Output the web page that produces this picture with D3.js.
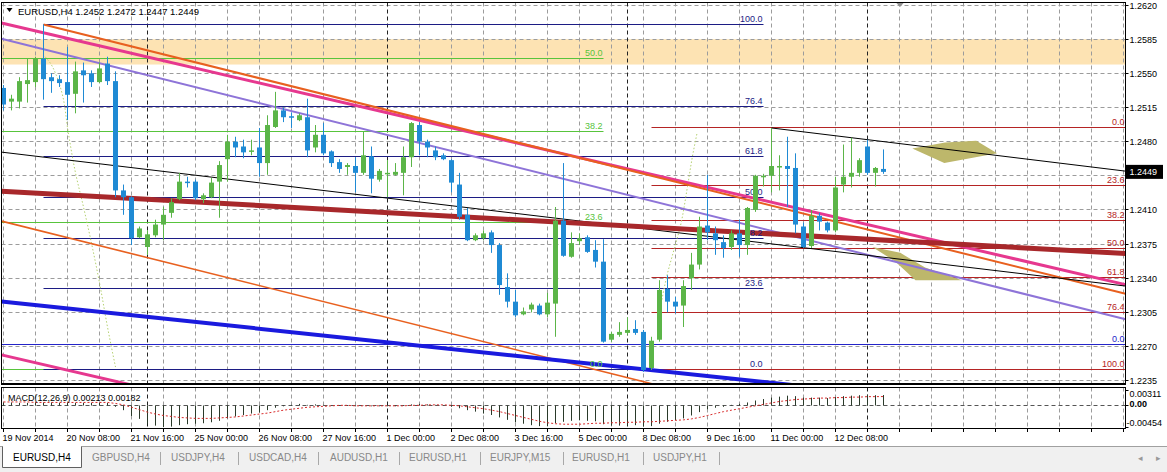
<!DOCTYPE html>
<html><head><meta charset="utf-8">
<script src="https://cdn.jsdelivr.net/npm/d3@7"></script>
<style>
html,body{margin:0;padding:0;background:#fff;}
svg{display:block;font-family:"Liberation Sans",Arial,sans-serif;}
</style></head><body>
<svg id="c" width="1167" height="472"></svg>
<script>
// ---------------- DATA ----------------
const symbolTitle = "EURUSD,H4";
const headerOHLC = [1.2452, 1.2472, 1.2447, 1.2449];
const opens = [1.2535,1.2521,1.2521,1.2539,1.2541,1.2565,1.2546,1.2544,1.2541,1.2529,1.2553,1.2550,1.2541,1.2560,1.2542,1.2430,1.2423,1.2382,1.2372,1.2384,
1.2395,1.2407,1.2421,1.2439,1.2439,1.2421,1.2423,1.2439,1.2462,1.2480,1.2475,1.2470,1.2474,1.2458,1.2495,1.2512,1.2506,1.2502,1.2505,1.2474,
1.2487,1.2470,1.2459,1.2454,1.2455,1.2448,1.2465,1.2441,1.2448,1.2446,1.2448,1.2464,1.2497,1.2480,1.2471,1.2466,1.2461,1.2436,1.2405,1.2379,
1.2381,1.2387,1.2374,1.2331,1.2316,1.2303,1.2308,1.2312,1.2303,1.2314,1.2399,1.2362,1.2378,1.2382,1.2369,1.2357,1.2277,1.2282,1.2284,1.2288,
1.2285,1.2248,1.2277,1.2329,1.2316,1.2312,1.2340,1.2354,1.2394,1.2386,1.2377,1.2372,1.2386,1.2374,1.2410,1.2445,1.2445,1.2455,1.2455,1.2453,
1.2393,1.2373,1.2404,1.2397,1.2389,1.2436,1.2444,1.2448,1.2475,1.2448,1.2452];
const highs = [1.2538,1.2528,1.2546,1.2565,1.2567,1.2600,1.2550,1.2548,1.2577,1.2562,1.2561,1.2553,1.2561,1.2567,1.2552,1.2436,1.2424,1.2393,1.2389,1.2400,
1.2413,1.2422,1.2448,1.2444,1.2441,1.2427,1.2443,1.2460,1.2487,1.2485,1.2482,1.2482,1.2494,1.2507,1.2531,1.2515,1.2510,1.2509,1.2524,1.2497,
1.2499,1.2471,1.2462,1.2458,1.2464,1.2490,1.2475,1.2452,1.2461,1.2458,1.2475,1.2500,1.2500,1.2482,1.2475,1.2468,1.2462,1.2448,1.2412,1.2386,
1.2389,1.2389,1.2376,1.2345,1.2328,1.2310,1.2315,1.2314,1.2325,1.2413,1.2458,1.2387,1.2386,1.2384,1.2379,1.2380,1.2285,1.2295,1.2300,1.2297,
1.2287,1.2280,1.2338,1.2343,1.2321,1.2338,1.2366,1.2403,1.2446,1.2393,1.2384,1.2389,1.2400,1.2413,1.2446,1.2447,1.2494,1.2466,1.2485,1.2468,
1.2397,1.2410,1.2407,1.2398,1.2444,1.2477,1.2484,1.2463,1.2482,1.2454,1.2472];
const lows = [1.2512,1.2512,1.2514,1.2520,1.2536,1.2523,1.2530,1.2536,1.2502,1.2509,1.2520,1.2536,1.2540,1.2538,1.2423,1.2405,1.2374,1.2381,1.2364,1.2382,
1.2379,1.2402,1.2420,1.2433,1.2420,1.2417,1.2422,1.2402,1.2439,1.2464,1.2463,1.2466,1.2444,1.2446,1.2494,1.2500,1.2494,1.2501,1.2464,1.2469,
1.2466,1.2454,1.2448,1.2446,1.2428,1.2446,1.2427,1.2439,1.2423,1.2445,1.2425,1.2454,1.2466,1.2464,1.2461,1.2461,1.2428,1.2400,1.2378,1.2378,
1.2379,1.2366,1.2323,1.2310,1.2300,1.2302,1.2305,1.2302,1.2300,1.2280,1.2362,1.2361,1.2374,1.2366,1.2351,1.2274,1.2275,1.2280,1.2282,1.2282,
1.2244,1.2246,1.2275,1.2305,1.2304,1.2290,1.2328,1.2349,1.2379,1.2364,1.2361,1.2369,1.2362,1.2364,1.2408,1.2434,1.2428,1.2430,1.2413,1.2386,
1.2371,1.2371,1.2389,1.2387,1.2387,1.2428,1.2433,1.2444,1.2446,1.2434,1.2447];
const closes = [1.2518,1.2524,1.2542,1.2543,1.2565,1.2544,1.2542,1.2540,1.2528,1.2552,1.2548,1.2541,1.2555,1.2542,1.2430,1.2423,1.2381,1.2391,1.2385,1.2395,
1.2405,1.2418,1.2439,1.2438,1.2422,1.2425,1.2438,1.2456,1.2480,1.2474,1.2469,1.2471,1.2458,1.2497,1.2512,1.2505,1.2505,1.2507,1.2471,1.2487,
1.2468,1.2458,1.2452,1.2456,1.2448,1.2466,1.2442,1.2450,1.2448,1.2449,1.2464,1.2499,1.2480,1.2474,1.2464,1.2462,1.2438,1.2403,1.2379,1.2384,
1.2386,1.2374,1.2333,1.2316,1.2302,1.2306,1.2313,1.2303,1.2315,1.2399,1.2363,1.2376,1.2381,1.2367,1.2357,1.2275,1.2283,1.2285,1.2287,1.2284,
1.2246,1.2276,1.2328,1.2316,1.2311,1.2332,1.2354,1.2393,1.2387,1.2379,1.2371,1.2386,1.2374,1.2412,1.2445,1.2445,1.2455,1.2455,1.2452,1.2395,
1.2372,1.2404,1.2398,1.2389,1.2433,1.2444,1.2448,1.2461,1.2448,1.2453,1.2449];

const macdMain = [0.0006,0.0006,0.0005,0.0005,0.0006,0.0006,0.0006,0.0005,0.0005,0.0005,0.0005,0.0005,0.0005,0.0005,-0.0003,-0.0010,-0.0022,-0.0028,-0.0038,-0.0042,
-0.0045,-0.0044,-0.0041,-0.0039,-0.0038,-0.0037,-0.0035,-0.0032,-0.0027,-0.0023,-0.0020,-0.0017,-0.0015,-0.0010,-0.0005,-0.0002,0.0001,0.0003,0.0001,0.0002,
0.0001,0.0000,-0.0001,-0.0001,-0.0002,-0.0001,-0.0002,-0.0002,-0.0002,-0.0002,-0.0001,0.0002,0.0003,0.0002,0.0001,0.0000,-0.0003,-0.0006,-0.0010,-0.0013,
-0.0017,-0.0020,-0.0025,-0.0030,-0.0035,-0.0038,-0.0041,-0.0043,-0.0043,-0.0037,-0.0034,-0.0032,-0.0031,-0.0032,-0.0033,-0.0039,-0.0042,-0.0042,-0.0042,-0.0041,
-0.0044,-0.0043,-0.0038,-0.0034,-0.0031,-0.0027,-0.0021,-0.0014,-0.0008,-0.0005,-0.0003,0.0001,0.0003,0.0006,0.0010,0.0013,0.0016,0.0018,0.0020,0.0019,
0.0016,0.0016,0.0016,0.0015,0.0017,0.0019,0.0020,0.0021,0.0022,0.0021,0.00213];
const macdSignal = [0.0007,0.0007,0.0007,0.0007,0.0006,0.0006,0.0006,0.0006,0.0006,0.0006,0.0006,0.0006,0.0006,0.0006,0.0004,0.0001,-0.0004,-0.0009,-0.0014,-0.0018,
-0.0021,-0.0023,-0.0025,-0.0026,-0.0027,-0.0027,-0.0027,-0.0026,-0.0025,-0.0024,-0.0022,-0.0020,-0.0018,-0.0016,-0.0013,-0.0010,-0.0008,-0.0006,-0.0004,-0.0003,
-0.0002,-0.0001,0.0000,0.0000,-0.0001,-0.0001,-0.0001,-0.0001,-0.0001,-0.0001,-0.0001,0.0000,0.0000,0.0001,0.0001,0.0001,0.0000,-0.0001,-0.0003,-0.0005,
-0.0007,-0.0010,-0.0013,-0.0017,-0.0021,-0.0025,-0.0029,-0.0033,-0.0036,-0.0038,-0.0039,-0.0039,-0.0039,-0.0038,-0.0037,-0.0037,-0.0036,-0.0036,-0.0035,-0.0035,
-0.0034,-0.0034,-0.0033,-0.0032,-0.0031,-0.0030,-0.0028,-0.0025,-0.0021,-0.0017,-0.0013,-0.0010,-0.0007,-0.0004,-0.0001,0.0002,0.0005,0.0008,0.0010,0.0012,
0.0013,0.0014,0.0015,0.0015,0.0016,0.0016,0.0017,0.0017,0.0018,0.0018,0.00182];
const macdScale = [-0.00454, 0.00311];
const macdTitle = "MACD(12,26,9) 0.00213 0.00182";

const priceTicks = [1.2620,1.2585,1.2550,1.2515,1.2480,1.2445,1.2410,1.2375,1.2340,1.2305,1.2270,1.2235];
const dateLabels = ["19 Nov 2014","20 Nov 08:00","21 Nov 16:00","25 Nov 00:00","26 Nov 08:00","27 Nov 16:00","1 Dec 00:00","2 Dec 08:00","3 Dec 16:00","5 Dec 00:00","8 Dec 08:00","9 Dec 16:00","11 Dec 00:00","12 Dec 08:00"];
const dateLabelIdx = [0,8,16,24,32,40,48,56,64,72,80,88,96,104];
const weekStartIdx = [18,48,78,108];
const lastBarIdx = 140; // chart shift area extends to this bar index

// zone (rectangle object) prices
const zoneTop = 1.2585, zoneBottom = 1.2559;
// fibonacci objects: [price at 0%, price at 100%, from bar, to bar]
const fibLevels = [0, 23.6, 38.2, 50.0, 61.8, 76.4, 100.0];
const fibNavy = [1.2246, 1.2600, 5, 95];
const fibGreen = [1.2246, 1.2885, -1, 75];
const fibRed = [1.2494, 1.2246, 81, 140];
const hLineBlue = 1.2272;
// trend lines: [bar1, price1, bar2, price2, extension]
const trendNames = ["pinkUpper","orange","purple","black1","black2","darkred","orange2","blue","pinkLower"];
const trendBar1 = [0, 5, 0, 0, 96, 0, 0, 0, 0];
const trendP1 = [1.2601, 1.2600, 1.2585, 1.2469, 1.2494, 1.2429, 1.2398, 1.2316, 1.2261];
const trendBar2 = [130, 130, 130, 130, 130, 130, 60, 60, 30];
const trendP2 = [1.2353, 1.2345, 1.2319, 1.2342, 1.2460, 1.2370, 1.2275, 1.2264, 1.2204];
const trendExt = ["both","right","both","both","right","both","both","both","both"];
// dotted arcs (bar, price)
const arcLeft = [[5.2,1.2567],[5.8,1.2561],[6.6,1.2548],[7.3,1.2530],[8.1,1.2489],[9.0,1.2448],[10.0,1.2413],[11.1,1.2372],[12.1,1.2331],[13.0,1.2290],[14.0,1.2249]];
const arcRight = [[82.3,1.2318],[83.0,1.2345],[83.7,1.2366],[84.6,1.2393],[85.5,1.2434],[86.1,1.2464],[86.7,1.2489]];
// khaki shapes (bar, price)
const shapeUpper = [[113.6,1.2473],[117.7,1.2479],[121.6,1.2481],[124.2,1.2468],[121.5,1.2464],[117.6,1.2458]];
const shapeLower = [[108.6,1.2372],[112.1,1.2366],[115.2,1.2351],[119.8,1.2338],[114.0,1.2338],[111.5,1.2357]];

const tabNames = ["EURUSD,H4","GBPUSD,H4","USDJPY,H4","USDCAD,H4","AUDUSD,H1","EURUSD,H1","EURJPY,M15","EURUSD,H1","USDJPY,H1"];

// ---------------- DRAW ----------------
const svg = d3.select("#c");
const L = 1.5, R = 1125.5, MT = 2.5, MB = 384.5, ST = 387.5, SB = 428.5;
const x = d3.scaleLinear().domain([0, 110]).range([3.5, 883.5]);
const y = d3.scaleLinear().domain([1.2235, 1.2620]).range([380.7, 5]);
const yM = d3.scaleLinear().domain(macdScale).range([427.3, 390.3]);
const crisp = v => Math.round(v - 0.5) + 0.5;

const styles = {
  pinkUpper:{c:"#e6388f", w:3}, orange:{c:"#e8601f", w:2}, purple:{c:"#8e74d8", w:2},
  black1:{c:"#000", w:1}, black2:{c:"#000", w:1}, darkred:{c:"#a8282b", w:5},
  orange2:{c:"#e8601f", w:1.6}, blue:{c:"#1a1ade", w:4}, pinkLower:{c:"#e6388f", w:3}
};

const defs = svg.append("defs");
defs.append("clipPath").attr("id","mainClip").append("rect")
  .attr("x", L).attr("y", MT).attr("width", R - L).attr("height", MB - MT);
defs.append("clipPath").attr("id","subClip").append("rect")
  .attr("x", L).attr("y", ST).attr("width", R - L).attr("height", SB - ST);

// tab bar background
svg.append("rect").attr("x",0).attr("y",446).attr("width",1167).attr("height",26).attr("fill","#f0f0f0");
svg.append("line").attr("x1",0).attr("x2",1167).attr("y1",446.5).attr("y2",446.5).attr("stroke","#a0a0a0");

const main = svg.append("g").attr("clip-path","url(#mainClip)");

// zone
main.append("rect").attr("x", L).attr("width", R - L)
  .attr("y", y(zoneTop)).attr("height", y(zoneBottom) - y(zoneTop)).attr("fill", "#fde3b3");

// grid
const gridIdx = d3.range(0, lastBarIdx + 1, 4);
main.selectAll("line.hg").data(priceTicks).join("line").attr("class","hg")
  .attr("x1", L).attr("x2", R).attr("y1", d => crisp(y(d))).attr("y2", d => crisp(y(d)))
  .attr("stroke", "#9c9c9c").attr("stroke-dasharray", "4,3");
main.selectAll("line.vg").data(gridIdx.filter(i => !weekStartIdx.includes(i))).join("line").attr("class","vg")
  .attr("x1", d => x(d)).attr("x2", d => x(d)).attr("y1", MT).attr("y2", MB)
  .attr("stroke", "#9c9c9c").attr("stroke-dasharray", "4,3");
main.selectAll("line.ws").data(weekStartIdx).join("line").attr("class","ws")
  .attr("x1", d => x(d)).attr("x2", d => x(d)).attr("y1", MT).attr("y2", MB)
  .attr("stroke", "#222").attr("stroke-dasharray", "4,3");

const fibLineLayer = main.append("g");
const shapeLayer = main.append("g");
const trendLayer = main.append("g");
const labelLayer = main.append("g");
const candleLayer = main.append("g");

// fib drawing helper
function drawFib(fib, levels, color) {
  const [p0, p100, b1, b2] = fib;
  const xs = b1 < 0 ? L : x(b1), xe = b2 >= lastBarIdx ? R : x(b2);
  levels.forEach(lv => {
    const py = crisp(y(p0 + (p100 - p0) * lv / 100));
    if (py < MT || py > MB) return;
    fibLineLayer.append("line").attr("x1", xs).attr("x2", xe).attr("y1", py).attr("y2", py)
      .attr("stroke", color).attr("stroke-width", 1);
    if (py - 10 < MT) return;
    labelLayer.append("text").attr("x", xe - 1).attr("y", py - 2.5)
      .attr("text-anchor", "end").attr("font-size", "9px").attr("fill", color)
      .text(lv.toFixed(1));
  });
}
drawFib(fibGreen, fibLevels, "#58c43c");
drawFib(fibNavy, fibLevels, "#1c1c84");
drawFib(fibRed, fibLevels, "#b52424");
// horizontal blue line
fibLineLayer.append("line").attr("x1", L).attr("x2", R).attr("y1", crisp(y(hLineBlue))).attr("y2", crisp(y(hLineBlue)))
  .attr("stroke", "#2424c8");
labelLayer.append("text").attr("x", R - 1).attr("y", crisp(y(hLineBlue)) - 2.5).attr("text-anchor","end")
  .attr("font-size","9px").attr("fill","#2424c8").text("0.0");

// khaki shapes
const poly = pts => pts.map(d => [x(d[0]), y(d[1])].join(",")).join(" ");
[shapeUpper, shapeLower].forEach(s => shapeLayer.append("polygon").attr("points", poly(s)).attr("fill", "#bdb76b"));

// dotted arcs
const lineGen = d3.line().x(d => x(d[0])).y(d => y(d[1])).curve(d3.curveMonotoneY);
[arcLeft, arcRight].forEach(a => shapeLayer.append("path").attr("d", lineGen(a)).attr("fill","none")
  .attr("stroke", "#b4d070").attr("stroke-width", 1).attr("stroke-dasharray", "1.5,2"));

// trend lines
trendNames.forEach((n, k) => {
  const x1 = x(trendBar1[k]), y1 = y(trendP1[k]), x2 = x(trendBar2[k]), y2 = y(trendP2[k]);
  const m = (y2 - y1) / (x2 - x1);
  const xs = trendExt[k] === "both" ? L : x1;
  const xe = R;
  trendLayer.append("line").attr("x1", xs).attr("y1", y1 + m * (xs - x1)).attr("x2", xe).attr("y2", y1 + m * (xe - x1))
    .attr("stroke", styles[n].c).attr("stroke-width", styles[n].w);
});

// candles
const bull = "#5bb548", bear = "#1f8ad4";
const idx = d3.range(opens.length);
candleLayer.selectAll("line.wick").data(idx).join("line").attr("class","wick")
  .attr("x1", i => x(i)).attr("x2", i => x(i))
  .attr("y1", i => y(highs[i])).attr("y2", i => y(lows[i]))
  .attr("stroke", i => closes[i] >= opens[i] ? bull : bear).attr("stroke-width", 1);
candleLayer.selectAll("rect.body").data(idx).join("rect").attr("class","body")
  .attr("x", i => x(i) - 2.5).attr("width", 5)
  .attr("y", i => y(Math.max(opens[i], closes[i])))
  .attr("height", i => Math.max(1.5, Math.abs(y(opens[i]) - y(closes[i]))))
  .attr("fill", i => closes[i] >= opens[i] ? bull : bear);

// header
svg.append("path").attr("d", "M6.5,8 L12.5,8 L9.5,12 Z").attr("fill", "#000");
svg.append("text").attr("x", 18).attr("y", 15).attr("font-size", "9.5px").attr("fill", "#000")
  .attr("textLength", 181).attr("lengthAdjust", "spacing")
  .text(symbolTitle + "  " + headerOHLC.map(v => v.toFixed(4)).join(" "));
// shift marker
svg.append("path").attr("d", "M896,2.5 L904,2.5 L900,7 Z").attr("fill", "#909090");

// ---- MACD subwindow ----
const sub = svg.append("g").attr("clip-path","url(#subClip)");
sub.selectAll("line.vg").data(gridIdx.filter(i => !weekStartIdx.includes(i))).join("line").attr("class","vg")
  .attr("x1", d => x(d)).attr("x2", d => x(d)).attr("y1", ST).attr("y2", SB)
  .attr("stroke", "#9c9c9c").attr("stroke-dasharray", "4,3");
sub.selectAll("line.ws").data(weekStartIdx).join("line").attr("class","ws")
  .attr("x1", d => x(d)).attr("x2", d => x(d)).attr("y1", ST).attr("y2", SB)
  .attr("stroke", "#222").attr("stroke-dasharray", "4,3");
sub.append("line").attr("x1", L).attr("x2", R).attr("y1", crisp(yM(0))).attr("y2", crisp(yM(0)))
  .attr("stroke", "#555").attr("stroke-dasharray", "4,3");
sub.selectAll("line.h").data(d3.range(macdMain.length)).join("line").attr("class","h")
  .attr("x1", i => x(i)).attr("x2", i => x(i)).attr("y1", crisp(yM(0))).attr("y2", i => yM(macdMain[i]))
  .attr("stroke", "#2a3a2a").attr("stroke-width", 1);
sub.append("path").attr("d", d3.line().x((d, i) => x(i)).y(d => yM(d))(macdSignal))
  .attr("fill","none").attr("stroke","#d82c2c").attr("stroke-width",1).attr("stroke-dasharray","2,2");
svg.append("text").attr("x", 8).attr("y", 401).attr("font-size","9px").attr("fill","#000").text(macdTitle);

// frames
svg.append("rect").attr("x", L).attr("y", MT).attr("width", R - L).attr("height", MB - MT)
  .attr("fill","none").attr("stroke","#000");
svg.append("line").attr("x1", L).attr("x2", R).attr("y1", MB - 1).attr("y2", MB - 1).attr("stroke","#000");
svg.append("rect").attr("x", L).attr("y", ST).attr("width", R - L).attr("height", SB - ST)
  .attr("fill","none").attr("stroke","#000");

// price axis
const lastClose = closes[closes.length - 1];
const cy = y(lastClose);
const shownTicks = priceTicks.filter(d => Math.abs(y(d) - cy) > 10);
const ax = svg.append("g");
ax.selectAll("line").data(priceTicks).join("line")
  .attr("x1", R).attr("x2", R + 3).attr("y1", d => crisp(y(d))).attr("y2", d => crisp(y(d))).attr("stroke","#000");
ax.selectAll("text").data(shownTicks).join("text")
  .attr("x", 1129.5).attr("y", d => y(d) + 3.5).attr("font-size","9px").attr("fill","#000")
  .text(d => d.toFixed(4));
// current price box
svg.append("rect").attr("x", 1126).attr("y", cy - 7).attr("width", 37).attr("height", 14).attr("fill","#000");
svg.append("text").attr("x", 1129.5).attr("y", cy + 3.5).attr("font-size","9px").attr("fill","#fff")
  .text(lastClose.toFixed(4));

// macd axis
const mLabels = [[macdScale[1], macdScale[1].toFixed(5)], [0, "0.00"], [macdScale[0], macdScale[0].toFixed(5)]];
svg.selectAll("text.ml").data(mLabels).join("text").attr("class","ml")
  .attr("x", d => d[0] < 0 ? 1126.5 : 1129.5)
  .attr("y", (d, k) => [397, 406.5, 425.5][k])
  .attr("font-size","9px").attr("fill","#000").attr("font-weight", d => d[0] === 0 ? "bold" : "normal")
  .text(d => d[1]);
svg.selectAll("line.mt").data([macdScale[1], 0, macdScale[0]]).join("line").attr("class","mt")
  .attr("x1", R).attr("x2", R + 3).attr("y1", d => crisp(yM(d))).attr("y2", d => crisp(yM(d))).attr("stroke","#000");

// time axis
svg.selectAll("line.tt").data(gridIdx).join("line").attr("class","tt")
  .attr("x1", d => x(d)).attr("x2", d => x(d)).attr("y1", SB).attr("y2", SB + 3.5).attr("stroke","#000");
svg.selectAll("text.tl").data(dateLabels).join("text").attr("class","tl")
  .attr("x", (d, k) => x(dateLabelIdx[k]) - 1).attr("y", 441)
  .attr("font-size","9px").attr("fill","#000").text(d => d);

// tabs
const tabX = [13, 92, 171, 249, 330, 409, 490, 572, 653];
const sepX = [160, 238, 318, 399, 480, 563, 643, 719];
svg.append("path").attr("d", "M2.5,446.5 L2.5,467.5 L81.5,467.5 L81.5,446.5").attr("fill","#fff").attr("stroke","#606060");
svg.append("line").attr("x1",3).attr("x2",81).attr("y1",446.5).attr("y2",446.5).attr("stroke","#fff");
svg.selectAll("text.tab").data(tabNames).join("text").attr("class","tab")
  .attr("x", (d, k) => tabX[k]).attr("y", 461)
  .attr("font-size","10px").attr("fill", (d, k) => k === 0 ? "#000" : "#888").text(d => d);
svg.selectAll("line.sep").data(sepX).join("line").attr("class","sep")
  .attr("x1", d => d + 0.5).attr("x2", d => d + 0.5).attr("y1", 452).attr("y2", 465).attr("stroke","#a8a8a8");
svg.append("text").attr("x",1138).attr("y",461).attr("font-size","9px").attr("fill","#999").text("\u25C2");
svg.append("text").attr("x",1156).attr("y",461).attr("font-size","9px").attr("fill","#999").text("\u25B8");
</script></body></html>
